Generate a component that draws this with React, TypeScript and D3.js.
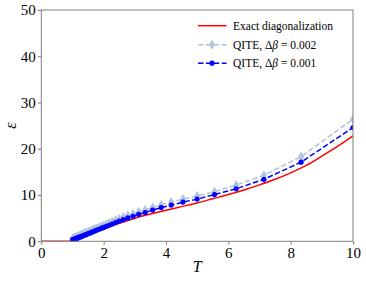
import { useEffect, useRef } from 'react'
import * as d3 from 'd3'

// temperatures of the QITE points (T = 1/beta)
const qiteT = [
  1.0, 1.02, 1.042, 1.064, 1.087, 1.111, 1.136, 1.163, 1.19, 1.22, 1.25, 1.282, 1.316, 1.351,
  1.389, 1.429, 1.471, 1.515, 1.5625, 1.613, 1.667, 1.724, 1.786, 1.852, 1.923, 2.0, 2.083,
  2.174, 2.273, 2.381, 2.5, 2.632, 2.778, 2.941, 3.125, 3.333, 3.571, 3.846, 4.167, 4.545, 5.0,
  5.556, 6.25, 7.143, 8.333, 10.0,
]
const qite002 = [
  0.55, 0.6, 0.66, 0.72, 0.79, 0.86, 0.93, 1.01, 1.08, 1.17, 1.26, 1.35, 1.45, 1.55, 1.66,
  1.78, 1.9, 2.03, 2.17, 2.32, 2.47, 2.64, 2.81, 3.0, 3.2, 3.42, 3.66, 3.92, 4.2, 4.52, 4.87,
  5.2, 5.56, 5.95, 6.36, 6.78, 7.33, 7.88, 8.45, 9.12, 9.8, 10.75, 12.15, 14.3, 18.3, 26.4,
]
const qite001 = [
  0.3, 0.35, 0.41, 0.47, 0.53, 0.6, 0.67, 0.74, 0.81, 0.89, 0.98, 1.06, 1.15, 1.25, 1.35,
  1.46, 1.57, 1.69, 1.82, 1.96, 2.1, 2.26, 2.42, 2.6, 2.79, 3.0, 3.23, 3.47, 3.74, 4.05, 4.38,
  4.7, 5.05, 5.42, 5.82, 6.22, 6.75, 7.28, 7.82, 8.48, 9.12, 10.1, 11.35, 13.4, 17.1, 24.6,
]
// exact diagonalization
const edT = [0, 0.5, 0.9, 1.0, 1.2, 1.5, 2.0, 2.5, 3.0, 3.5, 4.0, 4.5, 5.0, 5.5, 6.0, 6.5, 7.0, 7.5, 8.0, 8.5, 9.0, 9.5, 10.0]
const edE = [0, 0, 0, 0.15, 0.75, 1.7, 2.7, 3.9, 5.0, 5.9, 6.7, 7.5, 8.3, 9.2, 10.1, 11.1, 12.2, 13.4, 14.8, 16.4, 18.4, 20.5, 22.8]

const xTicks = [0, 2, 4, 6, 8, 10]
const yTicks = [0, 10, 20, 30, 40, 50]

const W = 366
const H = 282
const margin = { left: 41.3, right: 13, top: 10, bottom: 40.7 }
const serif = '"Liberation Serif", "DejaVu Serif", serif'

export default function App() {
  const ref = useRef<SVGSVGElement>(null)

  useEffect(() => {
    if (!ref.current) return
    const svg = d3.select(ref.current)
    svg.selectAll('*').remove()

    const x = d3.scaleLinear().domain([0, 10]).range([margin.left, W - margin.right])
    const y = d3.scaleLinear().domain([0, 50]).range([H - margin.bottom, margin.top])

    const clipId = 'plotclip'
    svg.append('clipPath').attr('id', clipId)
      .append('rect')
      .attr('x', x(0)).attr('y', y(50))
      .attr('width', x(10) - x(0)).attr('height', y(0) - y(50))

    const plot = svg.append('g').attr('clip-path', `url(#${clipId})`)
    const line = d3.line<[number, number]>().x(d => x(d[0])).y(d => y(d[1]))

    // exact diagonalization
    plot.append('path')
      .attr('d', line.curve(d3.curveMonotoneX)(edT.map((t, i) => [t, edE[i]] as [number, number])))
      .attr('fill', 'none').attr('stroke', '#ff0000').attr('stroke-width', 1.5)
    line.curve(d3.curveLinear)

    // QITE 0.002
    const light = '#b0c4de'
    plot.append('path')
      .attr('d', line(qiteT.map((t, i) => [t, qite002[i]] as [number, number])))
      .attr('fill', 'none').attr('stroke', light).attr('stroke-width', 1.5)
      .attr('stroke-dasharray', '5.5,2.4')
    const diamond = d3.symbol().type(d3.symbolDiamond).size(30)
    plot.selectAll('.d2').data(qiteT).enter().append('path')
      .attr('transform', (t, i) => `translate(${x(t)},${y(qite002[i])})`)
      .attr('d', diamond())
      .attr('fill', light)

    // QITE 0.001
    const blue = '#0000ff'
    plot.append('path')
      .attr('d', line(qiteT.map((t, i) => [t, qite001[i]] as [number, number])))
      .attr('fill', 'none').attr('stroke', blue).attr('stroke-width', 1.5)
      .attr('stroke-dasharray', '5.5,2.4')
    plot.selectAll('.d1').data(qiteT).enter().append('circle')
      .attr('cx', t => x(t)).attr('cy', (t, i) => y(qite001[i]))
      .attr('r', 2.6).attr('fill', blue)

    // frame
    const spine = '#7f7f7f'
    svg.append('rect')
      .attr('x', x(0)).attr('y', y(50))
      .attr('width', x(10) - x(0)).attr('height', y(0) - y(50))
      .attr('fill', 'none').attr('stroke', spine).attr('stroke-width', 1)

    // axes
    const xAxis = svg.append('g').attr('transform', `translate(0,${y(0)})`)
      .call(d3.axisBottom(x).tickValues(xTicks).tickSize(3.5).tickPadding(2.5).tickFormat(d3.format('d')))
    const yAxis = svg.append('g').attr('transform', `translate(${x(0)},0)`)
      .call(d3.axisLeft(y).tickValues(yTicks).tickSize(3.5).tickPadding(2).tickFormat(d3.format('d')))
    for (const a of [xAxis, yAxis]) {
      a.attr('font-family', serif)
      a.select('.domain').remove()
      a.selectAll('line').attr('stroke', spine)
      a.selectAll('text').attr('fill', '#000').style('font-family', serif).style('font-size', '15px')
    }

    svg.append('text')
      .attr('x', (x(0) + x(10)) / 2).attr('y', 272)
      .attr('text-anchor', 'middle')
      .style('font-family', serif).style('font-size', '16px').style('font-style', 'italic')
      .text('T')
    svg.append('text')
      .attr('transform', `translate(16,${(y(0) + y(50)) / 2}) rotate(-90)`)
      .attr('text-anchor', 'middle')
      .style('font-family', serif).style('font-size', '16px').style('font-style', 'italic')
      .text('ε')

    // legend
    const leg = svg.append('g').style('font-family', serif).style('font-size', '11.5px')
    const rows = [
      { label: 'Exact diagonalization', color: '#ff0000', dash: null, mark: null, beta: '' },
      { label: 'QITE, Δ', color: light, dash: '5.5,2.4', mark: 'diamond', beta: '0.002' },
      { label: 'QITE, Δ', color: blue, dash: '5.5,2.4', mark: 'circle', beta: '0.001' },
    ]
    const rowY = [25.7, 44.7, 63.2]
    rows.forEach((r, i) => {
      const ly = rowY[i]
      leg.append('line')
        .attr('x1', 198).attr('x2', 226.5).attr('y1', ly).attr('y2', ly)
        .attr('stroke', r.color).attr('stroke-width', 1.5)
        .attr('stroke-dasharray', r.dash ?? null)
      if (r.mark === 'diamond') {
        leg.append('path').attr('transform', `translate(212,${ly})`).attr('d', diamond()).attr('fill', r.color)
      } else if (r.mark === 'circle') {
        leg.append('circle').attr('cx', 212).attr('cy', ly).attr('r', 2.6).attr('fill', r.color)
      }
      const t = leg.append('text').attr('x', 233).attr('y', ly + 4)
      t.append('tspan').text(r.label)
      if (r.beta) {
        t.append('tspan').style('font-style', 'italic').text('β')
        t.append('tspan').text(` = ${r.beta}`)
      }
    })
  }, [])

  return (
    <svg ref={ref} width={W} height={H}
      style={{ position: 'fixed', left: 0, top: 0, background: '#fff' }} />
  )
}
